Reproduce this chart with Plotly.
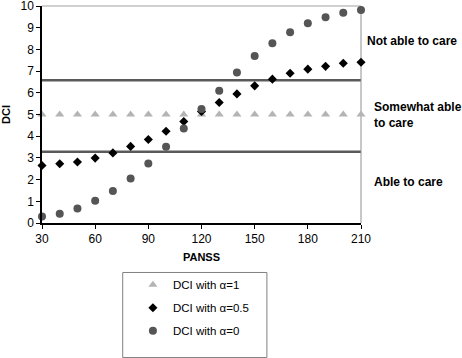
import plotly.graph_objects as go

panss = [30, 40, 50, 60, 70, 80, 90, 100, 110, 120, 130, 140, 150, 160, 170, 180, 190, 200, 210]
dci_a1 = [5] * 19
dci_a05 = [2.65, 2.73, 2.81, 2.99, 3.23, 3.53, 3.85, 4.23, 4.68, 5.14, 5.55, 5.95, 6.32, 6.63, 6.90, 7.09, 7.22, 7.36, 7.41]
dci_a0 = [0.30, 0.43, 0.67, 1.03, 1.47, 2.05, 2.74, 3.51, 4.35, 5.25, 6.10, 6.93, 7.70, 8.28, 8.79, 9.20, 9.48, 9.69, 9.82]
thresholds = [6.58, 3.28]
zone_labels = ["Not able to care", "Somewhat able<br>to care", "Able to care"]
zone_y = [8.4, 5.0, 1.9]
zone_x = [1.014, 1.033, 1.033]

FONT = "Liberation Sans, Arial, sans-serif"

fig = go.Figure()
fig.add_trace(go.Scatter(x=panss, y=dci_a1, mode="markers", name="DCI with α=1",
                         marker=dict(symbol="triangle-up", size=8, color="#b4b4b4"),
                         legendgroup="a", cliponaxis=False))
fig.add_trace(go.Scatter(x=panss, y=dci_a05, mode="markers", name="DCI with α=0.5",
                         marker=dict(symbol="diamond", size=7, color="#000000"),
                         legendgroup="b", cliponaxis=False))
fig.add_trace(go.Scatter(x=panss, y=dci_a0, mode="markers", name="DCI with α=0",
                         marker=dict(symbol="circle", size=8, color="#555555"),
                         legendgroup="c", cliponaxis=False))

for t in thresholds:
    fig.add_shape(type="line", xref="paper", x0=0, x1=1, yref="y", y0=t, y1=t,
                  line=dict(color="#5a5a5a", width=2.5), layer="below")

# top and right borders
fig.add_shape(type="line", xref="paper", yref="paper", x0=0, x1=1, y0=1, y1=1,
              line=dict(color="#c0c0c0", width=1.5), layer="below")
fig.add_shape(type="line", xref="paper", yref="paper", x0=1, x1=1, y0=0, y1=1,
              line=dict(color="#909090", width=1), layer="below")

# legend box
fig.add_shape(type="rect", xref="paper", yref="paper", x0=0.253, x1=0.705, y0=-0.228, y1=-0.62,
              line=dict(color="#808080", width=1), fillcolor="rgba(0,0,0,0)")

for lab, yy, xx in zip(zone_labels, zone_y, zone_x):
    fig.add_annotation(text="<b>" + lab + "</b>", xref="paper", x=xx, xanchor="left",
                       yref="y", y=yy, showarrow=False, align="left",
                       font=dict(family=FONT, size=12, color="#000000"))

fig.update_layout(
    width=462, height=358,
    margin=dict(l=42, r=101, t=6, b=135, autoexpand=False),
    paper_bgcolor="white", plot_bgcolor="white",
    font=dict(family=FONT, size=12, color="#000000"),
    showlegend=True,
    legend=dict(x=0.285, y=-0.218, xanchor="left", yanchor="top",
                bgcolor="rgba(0,0,0,0)", borderwidth=0,
                tracegroupgap=4, font=dict(family=FONT, size=11.5),
                itemclick=False),
    xaxis=dict(range=[30, 210], tickvals=[30, 60, 90, 120, 150, 180, 210],
               showgrid=False, zeroline=False, showline=True, linecolor="#000000", linewidth=1.5,
               ticks="outside", ticklen=4, tickcolor="#000000", automargin=False,
               ticklabeloverflow="allow",
               title=dict(text="<b>PANSS</b>", font=dict(size=11), standoff=8)),
    yaxis=dict(range=[0, 10], dtick=1, showgrid=False, zeroline=False, showline=True,
               linecolor="#000000", linewidth=1.5, ticks="outside", ticklen=4, tickcolor="#000000",
               automargin=False, ticklabeloverflow="allow",
               title=dict(text="<b>DCI</b>", font=dict(size=11), standoff=8)),
)

fig.write_html("out.html", config={"displayModeBar": False},
               post_script="document.body.style.margin='0';")
